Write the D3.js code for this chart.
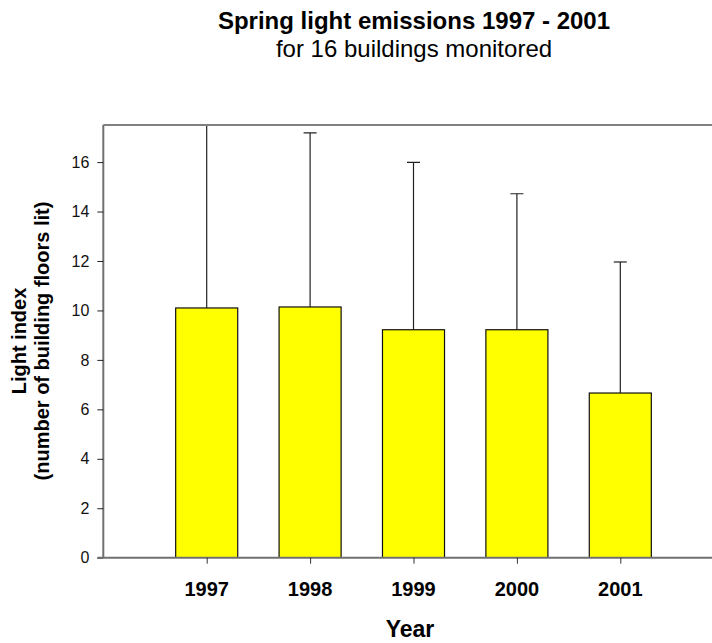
<!DOCTYPE html>
<html>
<head>
<meta charset="utf-8">
<script src="https://cdn.jsdelivr.net/npm/d3@7"></script>
<style>
  body { margin: 0; background: #fff; }
  svg { display: block; font-family: Arial, "Liberation Sans", sans-serif; }
</style>
</head>
<body>
<svg id="theChart"></svg>
<script>
var years = ['1997', '1998', '1999', '2000', '2001']
var means = [10.1, 10.14, 9.22, 9.22, 6.66]
var sds = [8.1, 7.04, 6.77, 5.5, 5.3]
var yTicks = [0, 2, 4, 6, 8, 10, 12, 14, 16]

var data = years.map(function(d, i){ return {year: d, pos: i + 1, mean: means[i], sd: sds[i]} })

var svg = d3.select('#theChart').attr('width', 712).attr('height', 643)

var x = d3.scaleLinear().domain([0, 6]).range([103.3, 723.7])
var y = d3.scaleLinear().domain([0, 17.5]).range([557.7, 125])
var barW = x(0.6) - x(0)

// titles
svg.append('text').attr('x', 414).attr('y', 29)
  .attr('text-anchor', 'middle').style('font-size', '24px').style('font-weight', 'bold')
  .text('Spring light emissions 1997 - 2001')
svg.append('text').attr('x', 414).attr('y', 57)
  .attr('text-anchor', 'middle').style('font-size', '24px')
  .text('for 16 buildings monitored')

// clip for the error bars running past the top
svg.append('clipPath').attr('id', 'clip')
  .append('rect').attr('x', x(0)).attr('y', y(17.5)).attr('width', 712 - x(0)).attr('height', y(0) - y(17.5))

var plot = svg.append('g').attr('clip-path', 'url(#clip)')

// error bars (upper only), drawn first so bars sit on top
var err = plot.selectAll('g.err').data(data).enter().append('g').attr('class', 'err')
err.append('line')
  .attr('x1', function(d){ return x(d.pos) }).attr('x2', function(d){ return x(d.pos) })
  .attr('y1', function(d){ return y(d.mean) }).attr('y2', function(d){ return y(d.mean + d.sd) })
  .attr('stroke', '#222').attr('stroke-width', 1.2)
err.append('line')
  .attr('x1', function(d){ return x(d.pos) - 6.5 }).attr('x2', function(d){ return x(d.pos) + 6.5 })
  .attr('y1', function(d){ return y(d.mean + d.sd) }).attr('y2', function(d){ return y(d.mean + d.sd) })
  .attr('stroke', '#222').attr('stroke-width', 1.2)

plot.selectAll('rect.bar').data(data).enter().append('rect').attr('class', 'bar')
  .attr('x', function(d){ return x(d.pos) - barW / 2 })
  .attr('y', function(d){ return y(d.mean) })
  .attr('width', barW)
  .attr('height', function(d){ return y(0) - y(d.mean) })
  .attr('fill', '#ffff00').attr('stroke', '#111').attr('stroke-width', 1.2)

// frame: top line
svg.append('line').attr('x1', x(0)).attr('x2', 712).attr('y1', y(17.5)).attr('y2', y(17.5))
  .attr('stroke', '#808080').attr('stroke-width', 2)

// y axis
var yAxis = svg.append('g').attr('transform', 'translate(' + x(0) + ',0)')
  .call(d3.axisLeft(y).tickValues(yTicks).tickSize(6).tickPadding(8).tickSizeOuter(0))
yAxis.select('.domain').attr('stroke', '#707070').attr('stroke-width', 2)
  .attr('d', 'M0,' + y(0) + 'V' + y(17.5))
yAxis.selectAll('.tick line').attr('stroke', '#222')
yAxis.selectAll('.tick text').style('font-size', '16px').style('font-family', 'Arial, "Liberation Sans", sans-serif').attr('fill', '#111')

// x axis
var xAxis = svg.append('g').attr('transform', 'translate(0,' + y(0) + ')')
  .call(d3.axisBottom(x).tickValues(data.map(function(d){ return d.pos })).tickSize(6).tickSizeOuter(0).tickFormat(''))
xAxis.select('.domain').attr('stroke', '#707070').attr('stroke-width', 2)
  .attr('d', 'M' + (x(0) - 6) + ',0H712')
xAxis.selectAll('.tick line').attr('stroke', '#333')

svg.selectAll('text.yr').data(data).enter().append('text').attr('class', 'yr')
  .attr('x', function(d){ return x(d.pos) })
  .attr('y', 596)
  .attr('text-anchor', 'middle').style('font-size', '20px').style('font-weight', 'bold')
  .text(function(d){ return d.year })

// axis titles
svg.append('text').attr('x', 410).attr('y', 637)
  .attr('text-anchor', 'middle').style('font-size', '23px').style('font-weight', 'bold')
  .text('Year')

var yl = svg.append('text').attr('transform', 'translate(0,341) rotate(-90)')
  .attr('text-anchor', 'middle').style('font-size', '20px').style('font-weight', 'bold')
yl.append('tspan').attr('x', 0).attr('y', 26).text('Light index')
yl.append('tspan').attr('x', 0).attr('y', 49).text('(number of building floors lit)')
</script>
</body>
</html>
